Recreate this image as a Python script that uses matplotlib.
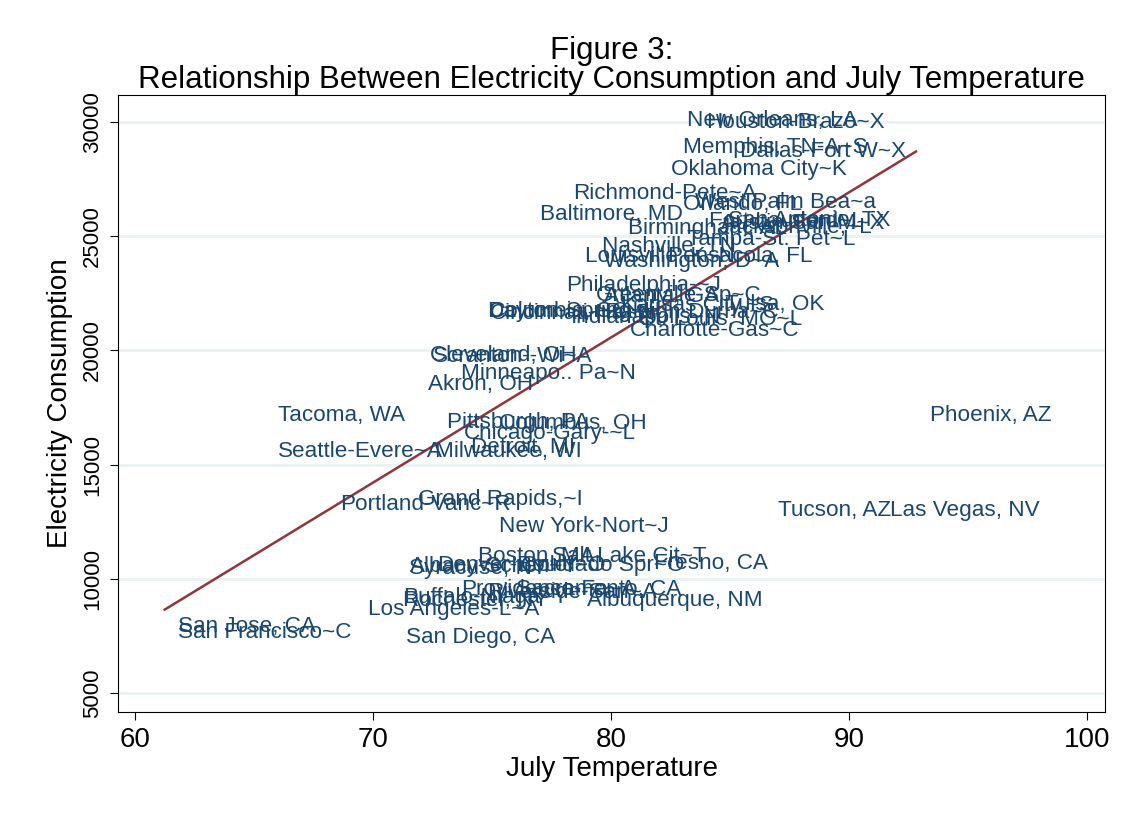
import matplotlib.pyplot as plt
import numpy as np

plt.rcParams['font.family'] = ['Liberation Sans', 'DejaVu Sans']

# metro areas: label, July temperature, electricity consumption
cities = ["New Orleans, LA", "Houston-Brazo~X", "Memphis, TN-A~S", "Dallas-Fort W~X",
          "Oklahoma City~K", "Richmond-Pete~A", "West Palm Bea~a", "Orlando, FL",
          "Baltimore, MD", "Birmingham, AL", "Fort Lauderd~L", "Austin-San M~X",
          "San Antonio, TX", "Jacksonville,~L", "Tampa-St. Pet~L", "Nashville, TN",
          "Louisville, K~N", "Pensacola, FL", "Washington, D~A", "Philadelphia-~J",
          "Greenville-Sp~C", "Atlanta, GA", "Tulsa, OK", "Kansas City,~S",
          "Raleigh-Durha~C", "St. Louis, MO~L", "Indianapolis~N", "Charlotte-Gas~C",
          "Dayton-Spring~H", "Cincinnati-Ha~N", "Columbia, SC", "Cleveland, OH",
          "Scranton--Wi~A", "Minneapo.. Pa~N", "Akron, OH", "Tacoma, WA",
          "Pittsburgh, PA", "Columbus, OH", "Chicago-Gary-~L", "Seattle-Evere~A",
          "Milwaukee, WI", "Detroit, MI", "Phoenix, AZ", "Portland-Vanc~R",
          "Grand Rapids,~I", "New York-Nort~J", "Tucson, AZ", "Las Vegas, NV",
          "Boston, MA", "Salt Lake Cit~T", "Fresno, CA", "Syracuse, NY",
          "Albany-Schen~Y", "Denver-Bould~O", "Colorado Spr~O", "Sacramento, CA",
          "Providence-Fa~A", "Riverside-San~A", "Albuquerque, NM", "Buffalo-Niaga~Y",
          "Rochester, NY", "Los Angeles-L~A", "San Diego, CA", "San Jose, CA",
          "San Francisco~C"]
july_temp = [83.2, 84.0, 83.0, 85.4,
             82.5, 78.4, 83.5, 83.0,
             77.0, 80.7, 84.1, 84.6,
             84.9, 84.5, 83.2, 79.6,
             78.9, 82.4, 79.7, 78.1,
             79.35, 79.7, 84.8, 80.4,
             79.7, 81.2, 78.3, 80.8,
             74.8, 74.9, 74.85, 72.4,
             72.5, 73.7, 72.3, 66.0,
             73.1, 75.3, 73.8, 66.0,
             72.6, 74.1, 93.4, 68.6,
             71.9, 75.3, 87.0, 91.7,
             74.4, 77.5, 81.8, 71.5,
             71.55, 72.7, 76.2, 76.0,
             73.7, 74.8, 79.0, 71.25,
             71.25, 69.8, 71.4, 61.8,
             61.8]
elec = [30040, 29960, 28860, 28690,
        27900, 26850, 26450, 26370,
        25930, 25320, 25620, 25530,
        25670, 25360, 24830, 24530,
        24090, 24090, 23870, 22820,
        22380, 22340, 21990, 21940,
        21640, 21330, 21420, 20850,
        21680, 21590, 21680, 19760,
        19710, 18970, 18490, 17130,
        16820, 16780, 16340, 15550,
        15550, 15730, 17130, 13230,
        13450, 12270, 13010, 13010,
        10960, 10960, 10650, 10430,
        10520, 10600, 10600, 9510,
        9510, 9420, 9030, 9200,
        9070, 8640, 7410, 7890,
        7630]

# fitted regression line
fit_x = [61.25, 92.8]
fit_y = [8650, 28700]

fig = plt.figure(figsize=(11.35, 8.25), dpi=100)
ax = fig.add_axes([0.104, 0.137, 0.870, 0.748])

for name, x, y in zip(cities, july_temp, elec):
    ax.text(x, y, name, color='#1a476f', fontsize=16.2, ha='left', va='center')

ax.plot(fit_x, fit_y, color='#90353b', lw=1.8)

ax.set_xlim(59.29, 100.76)
ax.set_ylim(4170, 31180)
ax.set_xticks([60, 70, 80, 90, 100])
ax.set_yticks([5000, 10000, 15000, 20000, 25000, 30000])
ax.set_yticklabels(['5000', '10000', '15000', '20000', '25000', '30000'],
                   rotation=90, va='center')
ax.tick_params(axis='x', labelsize=20, length=6, pad=5)
ax.tick_params(axis='y', labelsize=16, length=6, pad=5)
ax.yaxis.grid(True, color='#eaf2f3', lw=2)
ax.set_axisbelow(True)
ax.set_xlabel('July Temperature', fontsize=20, labelpad=2)
ax.set_ylabel('Electricity Consumption', fontsize=20, labelpad=6)
ax.set_title('Figure 3:\nRelationship Between Electricity Consumption and July Temperature',
             fontsize=22.5, linespacing=0.95, pad=4)

plt.savefig('out.png')
